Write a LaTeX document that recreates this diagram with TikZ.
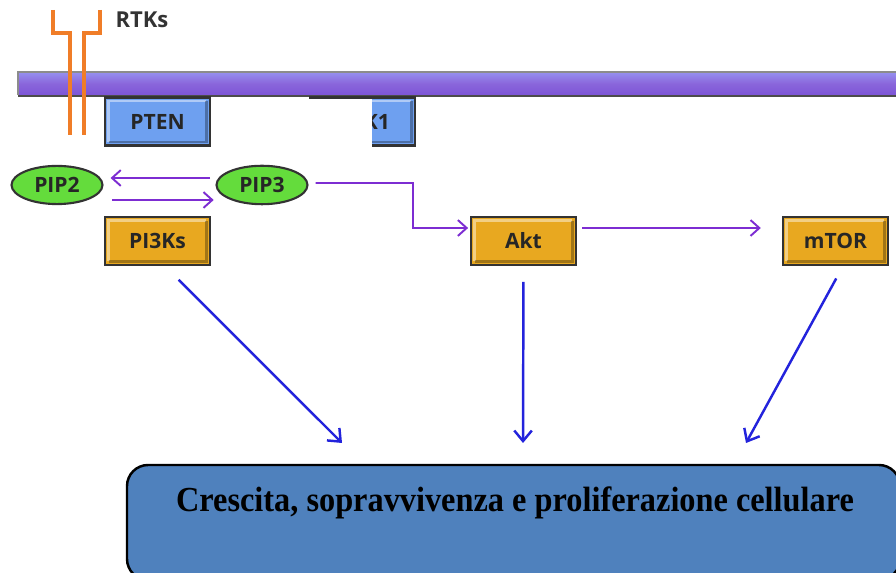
\documentclass[tikz,border=0pt]{standalone}
\usepackage{fontspec}
\setmainfont{Liberation Serif}
\setsansfont{Open Sans}
\usetikzlibrary{shapes.geometric,arrows.meta}
\definecolor{membranetop}{RGB}{150,145,240}
\definecolor{membranemid}{RGB}{125,85,215}
\definecolor{rtkorange}{RGB}{240,125,40}
\definecolor{phosblue}{RGB}{110,160,240}
\definecolor{kinaseorange}{RGB}{232,168,32}
\definecolor{lipidgreen}{RGB}{100,220,60}
\definecolor{signalpurple}{RGB}{125,45,210}
\definecolor{effectblue}{RGB}{35,35,220}
\definecolor{outcomeblue}{RGB}{79,129,189}
\begin{document}
\begin{tikzpicture}[x=0.02cm, y=-0.02cm,
    box/.style={rectangle, draw=black!80, line width=1.3pt, minimum width=2.1cm,
      minimum height=0.96cm, font=\sffamily\bfseries\fontsize{12}{14}\selectfont, text=black!85,
      path picture={\draw[white, opacity=0.45, line width=1.4pt]
        ([shift={(2pt,2pt)}]path picture bounding box.south west) |-
        ([shift={(-2pt,-2pt)}]path picture bounding box.north east);
        \draw[black, opacity=0.3, line width=1.4pt]
        ([shift={(2pt,2pt)}]path picture bounding box.south west) -|
        ([shift={(-2pt,-2pt)}]path picture bounding box.north east);}},
    phosphatase/.style={box, fill=phosblue},
    kinase/.style={box, fill=kinaseorange},
    lipid/.style={ellipse, draw=black!80, line width=1.2pt, fill=lipidgreen, minimum width=1.82cm,
      minimum height=0.68cm, font=\sffamily\bfseries\fontsize{12}{14}\selectfont, text=black!85},
    signal/.style={draw=signalpurple, line width=1.1pt, -{Straight Barb[length=5pt,width=9pt]}},
    effect/.style={draw=effectblue, line width=1.4pt, -{Straight Barb[length=6pt,width=10pt]}},
    receptor/.style={draw=rtkorange, line width=2.4pt}]
    \useasboundingbox (0,0) rectangle (896,573);

    % membrane
    \shade[top color=membranetop, bottom color=membranemid, middle color=membranemid!90!white]
        (18,72) rectangle (900,95);
    \draw[black!70, line width=1.6pt] (18,96) -- (900,96);
    \draw[black!45, line width=0.6pt] (18,95) -- (18,72) -- (900,72);

    % receptors
    \draw[receptor] (53,10) -- (53,33) -- (70,33) -- (70,135);
    \draw[receptor] (100,10) -- (100,33) -- (84,33) -- (84,135);
    \node[font=\sffamily\bfseries\fontsize{12.5}{14}\selectfont, text=black!80] (rtks) at (142,20) {RTKs};

    % membrane-associated enzymes
    \node[phosphatase] (pten) at (157.5,121.5) {PTEN};
    \node[phosphatase] (pdk1) at (362.5,121.5) {PDK1};
    \fill[white] (300,99) rectangle (372,150);

    % lipids
    \node[lipid] (pip2) at (57,185) {PIP2};
    \node[lipid] (pip3) at (262,185) {PIP3};

    % kinases
    \node[kinase] (pi3ks) at (157.5,241) {PI3Ks};
    \node[kinase] (akt) at (523.5,241) {Akt};
    \node[kinase] (mtor) at (835.5,241) {mTOR};

    % purple signalling
    \draw[signal, shorten <=3pt, shorten >=4pt] ([yshift=0.14cm]pip3.west) -- ([yshift=0.14cm]pip2.east);
    \draw[signal, shorten <=5pt, shorten >=1pt] ([yshift=-0.3cm]pip2.east) -- ([yshift=-0.3cm]pip3.west);
    \draw[signal, shorten <=4pt, shorten >=1pt] ([yshift=0.04cm]pip3.east) -- (413,183) |- ([yshift=0.26cm]akt.west);
    \draw[signal, shorten <=3pt, shorten >=12pt] ([yshift=0.26cm]akt.east) -- ([yshift=0.26cm]mtor.west);

    % outcome
    \draw[black, line width=1.4pt, fill=outcomeblue, rounded corners=12pt] (127,465) rectangle (900,580);
    \node[font=\bfseries\fontsize{20}{24}\selectfont] (result) at (515,503)
        {\scalebox{0.92}[1]{Crescita, sopravvivenza e proliferazione cellulare}};
    \coordinate (hit1) at (342,443);
    \coordinate (hit2) at (523,443);
    \coordinate (hit3) at (746,443);
    \draw[effect, shorten <=11pt] ([xshift=0.15cm]pi3ks.south) -- (hit1);
    \draw[effect, shorten <=9pt] (akt.south) -- (hit2);
    \draw[effect, shorten <=8pt] ([xshift=0.15cm]mtor.south) -- (hit3);
\end{tikzpicture}
\end{document}
